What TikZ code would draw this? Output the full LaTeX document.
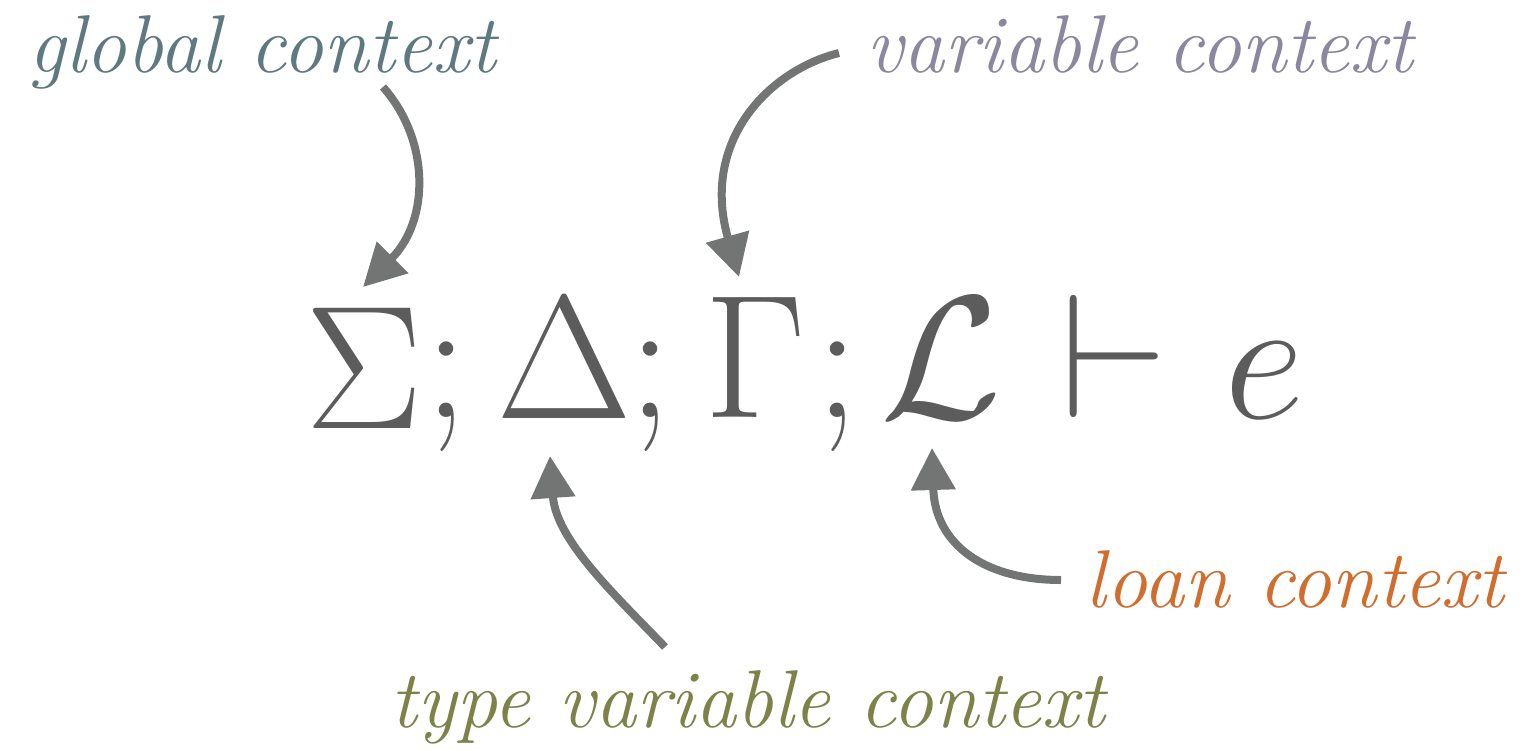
\documentclass[tikz,border=0pt]{standalone}
\usepackage{fix-cm}
\usepackage{fontspec}
\usetikzlibrary{arrows.meta}
\definecolor{globc}{HTML}{5E7A80}
\definecolor{varc}{HTML}{8A879E}
\definecolor{loanc}{HTML}{CF6E2E}
\definecolor{tvarc}{HTML}{7D8249}
\definecolor{arrc}{HTML}{737574}
\definecolor{mathc}{HTML}{5C5C5C}
\begin{document}
\begin{tikzpicture}[x=0.5pt,y=-0.5pt,
  lbl/.style={inner sep=0pt, outer sep=0pt, anchor=base, font=\fontsize{41}{48}\selectfont\itshape},
  sym/.style={inner sep=0pt, outer sep=0pt, anchor=base, text=mathc, font=\fontsize{88}{100}\selectfont},
  arr/.style={draw=arrc, line width=4pt, -{Triangle[length=21pt,width=21.5pt]}}]
\useasboundingbox (0,0) rectangle (1520,750);
% labels
\node[lbl, text=globc] (glob) at (262,72) {global context};
\node[lbl, text=varc] (var) at (1140,72) {variable context};
\node[lbl, text=loanc] (loan) at (1295,607) {loan context};
\node[lbl, text=tvarc] (tvar) at (748,727) {type variable context};
% formula
\node[sym] (sigma) at (364,428) {$\Sigma$};
\node[sym] (semi1) at (446,417) {$;$};
\node[sym] (delta) at (564,418) {$\Delta$};
\node[sym] (semi2) at (650,417) {$;$};
\node[sym] (gamma) at (755,417) {$\Gamma$};
\node[sym] (semi3) at (837,417) {$;$};
\node[sym] (loanL) at (941,418) {$\mathcal{L}$};
\node[sym] (turn) at (1114,417) {$\vdash$};
\node[sym] (expr) at (1264,418) {$e$};
% connector end points
\coordinate (gs) at (383,87);
\coordinate (gt) at (363,287);
\coordinate (vs) at (839,53);
\coordinate (vt) at (739,277);
\coordinate (ts) at (665,647);
\coordinate (tt) at (550,456);
\coordinate (ls) at (1061,580);
\coordinate (lt) at (932,448);
% connectors
\draw[arr] (gs) .. controls (430,140) and (430,220) .. (gt);
\draw[arr] (vs) .. controls (770,70) and (700,140) .. (vt);
\draw[arr] (ts) .. controls (615,595) and (556,540) .. (tt);
\draw[arr] (ls) .. controls (985,580) and (935,545) .. (lt);
\end{tikzpicture}
\end{document}
